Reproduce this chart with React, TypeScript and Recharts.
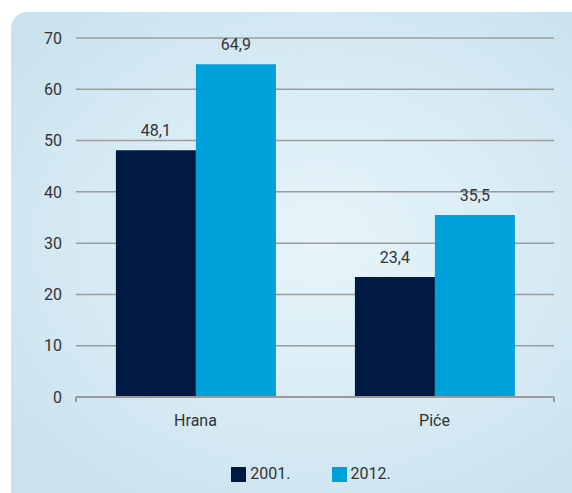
import React from 'react';
import { BarChart, Bar, XAxis, YAxis, CartesianGrid, Legend, LabelList } from 'recharts';

const categories = ['Hrana', 'Piće'];
const values2001 = [48.1, 23.4];
const values2012 = [64.9, 35.5];
const yTicks = [0, 10, 20, 30, 40, 50, 60, 70];
const edgeTicks = [0, 1, 2];

const data = categories.map((name, i) => ({ name, y2001: values2001[i], y2012: values2012[i] }));

const font = 'Roboto, "DejaVu Sans", sans-serif';
const textColor = '#333333';
const fmt = (v: any) => String(v).replace('.', ',');

const App: React.FC = () => {
  return (
    <div style={{ position: 'absolute', left: 0, top: 0, width: 572, height: 493, background: '#fff', fontFamily: font }}>
      <div
        style={{
          position: 'absolute',
          left: 11,
          top: 12,
          width: 561,
          height: 481,
          borderTopLeftRadius: 16,
          background: 'radial-gradient(ellipse 70% 65% at 55% 48%, #e7f4fa 0%, #d8ebf4 55%, #c9e2ee 100%)',
        }}
      />
      <div style={{ position: 'absolute', left: 0, top: 0 }}>
        <BarChart
          width={572}
          height={493}
          data={data}
          margin={{ top: 38, right: 18, left: 0, bottom: 65 }}
          barCategoryGap="16.7%"
          barGap={0}
        >
          <CartesianGrid vertical={false} stroke="#9c9c9c" strokeWidth={1.5} yAxisId="y" xAxisId="b" />
          {/* boundary axis: only the base line and the small ticks between categories */}
          <XAxis
            xAxisId="a"
            type="number"
            domain={[0, 2]}
            ticks={edgeTicks}
            interval={0}
            minTickGap={0}
            allowDataOverflow
            height={1}
            tick={() => <g />}
            tickSize={5}
            stroke="#9a9a9a"
            axisLine={{ stroke: '#9a9a9a', strokeWidth: 2 }}
            tickLine={{ stroke: '#9a9a9a', strokeWidth: 2 }}
          />
          <XAxis
            xAxisId="b"
            dataKey="name"
            height={30}
            axisLine={false}
            tickLine={false}
            tickSize={0}
            tickMargin={17}
            tick={{ fill: textColor, fontSize: 16, fontFamily: font }}
          />
          <YAxis
            yAxisId="y"
            width={76}
            domain={[0, 70]}
            ticks={yTicks}
            axisLine={false}
            tickLine={false}
            tickMargin={8}
            tick={{ fill: textColor, fontSize: 16, fontFamily: font }}
          />
          <Legend
            layout="horizontal"
            verticalAlign="middle"
            align="center"
            iconType="square"
            iconSize={15}
            wrapperStyle={{ top: 464, left: 30, width: 572, fontFamily: font, fontSize: 16 }}
            formatter={(value: any, entry: any, index: number) => (
              <span style={{ color: textColor, marginRight: index === 0 ? 31 : 0 }}>{value}</span>
            )}
          />
          <Bar dataKey="y2001" name="2001." fill="#001a45" xAxisId="b" yAxisId="y" isAnimationActive={false}>
            <LabelList dataKey="y2001" position="top" offset={14} formatter={fmt} fill={textColor} fontSize={16} fontFamily={font} />
          </Bar>
          <Bar dataKey="y2012" name="2012." fill="#00a0db" xAxisId="b" yAxisId="y" isAnimationActive={false}>
            <LabelList dataKey="y2012" position="top" offset={14} formatter={fmt} fill={textColor} fontSize={16} fontFamily={font} />
          </Bar>
        </BarChart>
      </div>
    </div>
  );
};

export default App;
